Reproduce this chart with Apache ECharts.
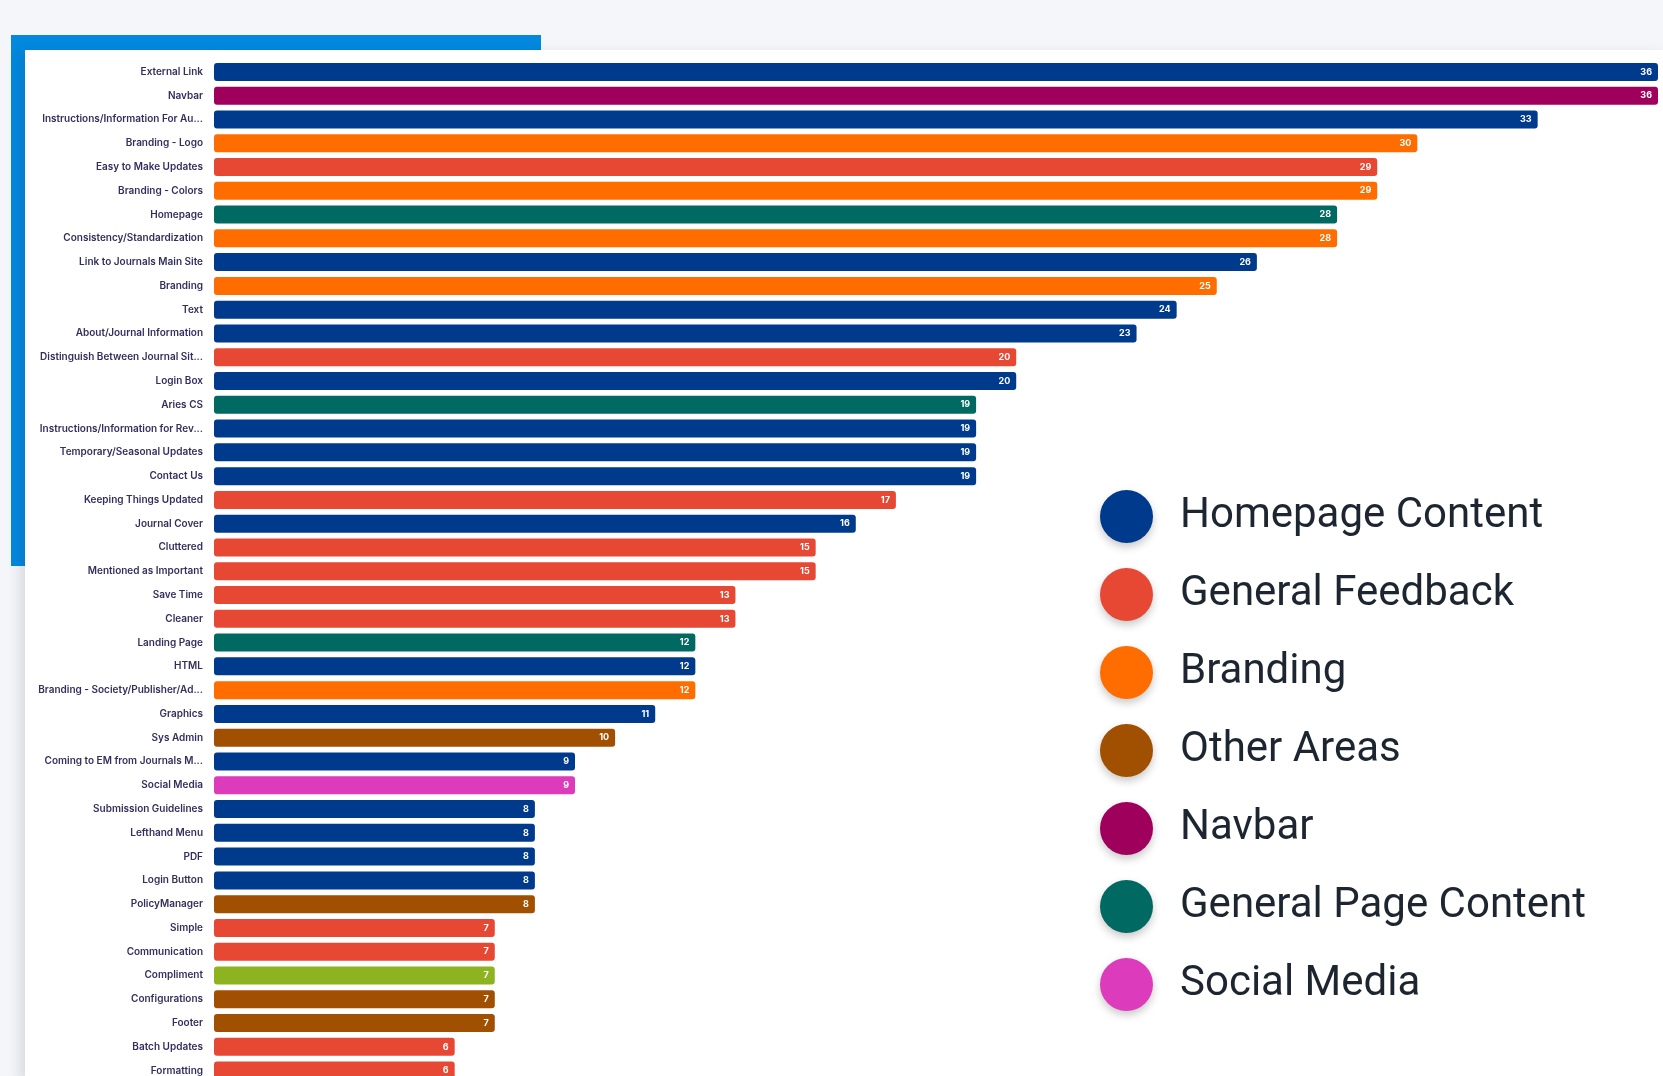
<!DOCTYPE html>
<html lang="en">
<head>
    <meta charset="utf-8">
    <title>Feedback topics</title>
    <script src="https://cdn.jsdelivr.net/npm/echarts@6/dist/echarts.min.js"></script>
    <style>
        html, body { margin: 0; padding: 0; background: #f4f6f9; overflow: hidden; }
        #accent { position: absolute; left: 11px; top: 35px; width: 530px; height: 531px; background: #0288de; }
        #card { position: absolute; left: 25px; top: 50px; width: 1638px; height: 1026px; background: #fff;
                box-shadow: -3px 6px 14px rgba(40, 50, 70, 0.18); }
        /* chart runs a little below the window, the last row is cut like in the screenshot */
        #main { position: absolute; left: 0; top: 0; width: 1663px; height: 1092px; }
    </style>
</head>
<body>
<div id="accent"></div>
<div id="card"></div>
<div id="main"></div>

<script type="text/javascript">
    // topics, top to bottom
    const categories = [
        "External Link", "Navbar", "Instructions/Information For Au...", "Branding - Logo",
        "Easy to Make Updates", "Branding - Colors", "Homepage", "Consistency/Standardization",
        "Link to Journals Main Site", "Branding", "Text", "About/Journal Information",
        "Distinguish Between Journal Sit...", "Login Box", "Aries CS", "Instructions/Information for Rev...",
        "Temporary/Seasonal Updates", "Contact Us", "Keeping Things Updated", "Journal Cover",
        "Cluttered", "Mentioned as Important", "Save Time", "Cleaner",
        "Landing Page", "HTML", "Branding - Society/Publisher/Ad...", "Graphics",
        "Sys Admin", "Coming to EM from Journals M...", "Social Media", "Submission Guidelines",
        "Lefthand Menu", "PDF", "Login Button", "PolicyManager",
        "Simple", "Communication", "Compliment", "Configurations",
        "Footer", "Batch Updates", "Formatting"
    ];
    const counts = [
        36, 36, 33, 30, 29, 29, 28, 28, 26, 25, 24, 23, 20, 20, 19, 19, 19, 19, 17, 16, 15, 15,
        13, 13, 12, 12, 12, 11, 10, 9, 9, 8, 8, 8, 8, 8, 7, 7, 7, 7, 7, 6, 6
    ];
    // H = Homepage Content, F = General Feedback, B = Branding, O = Other Areas,
    // N = Navbar, P = General Page Content, S = Social Media, C = Compliment
    const groupOf = [
        "H", "N", "H", "B", "F", "B", "P", "B", "H", "B", "H", "H", "F", "H", "P", "H", "H", "H",
        "F", "H", "F", "F", "F", "F", "P", "H", "B", "H", "O", "H", "S", "H", "H", "H", "H", "O",
        "F", "F", "C", "O", "O", "F", "F"
    ];
    const groupKeys = ["H", "F", "B", "O", "N", "P", "S", "C"];
    const groupNames = ["Homepage Content", "General Feedback", "Branding", "Other Areas",
        "Navbar", "General Page Content", "Social Media", "Compliment"];
    const groupColors = ["#003a8c", "#e64834", "#ff6d00", "#a05000",
        "#9e005b", "#006a62", "#dc3bbb", "#8db420"];

    let myChart = echarts.init(document.getElementById('main'));

    const series = groupKeys.map(function (k, gi) {
        return {
            name: groupNames[gi],
            type: 'bar',
            stack: 'all',
            barWidth: 18,
            itemStyle: { color: groupColors[gi], borderRadius: 3 },
            label: {
                show: true,
                position: 'insideRight',
                distance: 6,
                color: '#fff',
                fontSize: 9,
                fontWeight: 'bold',
                fontFamily: 'Inter'
            },
            data: counts.map(function (v, i) { return groupOf[i] === k ? v : null; })
        };
    });

    const option = {
        animation: false,
        grid: { left: 214, right: 5, top: 60, height: 1022.5 },
        xAxis: { type: 'value', min: 0, max: 36, show: false },
        yAxis: {
            type: 'category',
            inverse: true,
            data: categories,
            axisLine: { show: false },
            axisTick: { show: false },
            axisLabel: {
                margin: 11,
                fontSize: 10,
                fontWeight: 600,
                fontFamily: 'Inter',
                color: '#332f5c'
            }
        },
        legend: {
            orient: 'vertical',
            left: 1100,
            top: 490,
            padding: 0,
            data: groupNames.slice(0, 7),
            icon: 'circle',
            itemWidth: 53,
            itemHeight: 53,
            itemGap: 25,
            itemStyle: {
                shadowBlur: 8,
                shadowColor: 'rgba(0,0,0,0.22)',
                shadowOffsetY: 4
            },
            textStyle: {
                fontSize: 42,
                fontFamily: 'Roboto',
                color: '#1d2630',
                padding: [0, 0, 0, 22]
            }
        },
        series: series
    };
    myChart.setOption(option);
</script>
</body>
</html>
